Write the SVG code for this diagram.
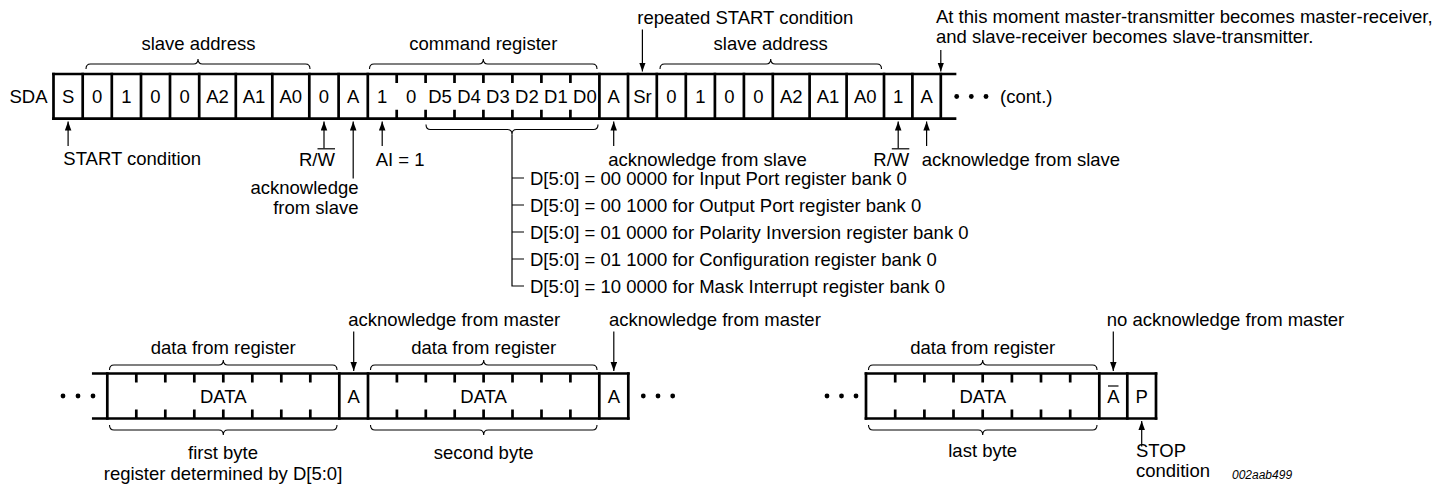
<svg xmlns="http://www.w3.org/2000/svg" width="1441" height="487" viewBox="0 0 1441 487">
<defs>
<marker id="ah" markerUnits="userSpaceOnUse" markerWidth="10" markerHeight="8" refX="9" refY="3.25" orient="auto">
<path d="M0,0 L9,3.25 L0,6.5 z" fill="#000"/>
</marker>
</defs>
<style>
text{font-family:"Liberation Sans",Arial,Helvetica,sans-serif;font-size:18.5px;fill:#000}
.c{text-anchor:middle}
.e{text-anchor:end}
.frame{fill:none;stroke:#000;stroke-width:2.7;stroke-linecap:square}
.tick{fill:none;stroke:#000;stroke-width:2.7}
.brace{fill:none;stroke:#000;stroke-width:1.1}
.arr{fill:none;stroke:#000;stroke-width:1.2;marker-end:url(#ah)}
.thin{fill:none;stroke:#000;stroke-width:1.2}
.dot{fill:#000}
.id{font-size:12px;font-style:italic}
</style>

<g id="sda-label"><text x="9.5" y="103">SDA</text></g>

<g id="top-frame">
<path class="frame" d="M53.5,74 H955 M53.5,118.7 H955"/>
<path class="frame" d="M53.5,74V118.7 M82.7,74V118.7 M111.8,74V118.7 M141,74V118.7 M170,74V118.7 M199.2,74V118.7 M235.8,74V118.7 M272.3,74V118.7 M309.3,74V118.7 M338.6,74V118.7 M367.8,74V118.7 M599.4,74V118.7 M628,74V118.7 M656.8,74V118.7 M685.8,74V118.7 M714.9,74V118.7 M743.9,74V118.7 M772.8,74V118.7 M809.6,74V118.7 M846.6,74V118.7 M884,74V118.7 M912.4,74V118.7 M940.8,74V118.7"/>
<path class="tick" d="M396.7,74V83 M425.6,74V83 M454.5,74V83 M483.4,74V83 M512.4,74V83 M541.4,74V83 M570.4,74V83 M396.7,109.7V118.7 M425.6,109.7V118.7 M454.5,109.7V118.7 M483.4,109.7V118.7 M512.4,109.7V118.7 M541.4,109.7V118.7 M570.4,109.7V118.7"/>
</g>

<g id="top-cells">
<text class="c" x="68.1" y="103">S</text>
<text class="c" x="97.25" y="103">0</text>
<text class="c" x="126.4" y="103">1</text>
<text class="c" x="155.5" y="103">0</text>
<text class="c" x="184.6" y="103">0</text>
<text class="c" x="217.5" y="103">A2</text>
<text class="c" x="254" y="103">A1</text>
<text class="c" x="290.8" y="103">A0</text>
<text class="c" x="324" y="103">0</text>
<text class="c" x="353.2" y="103">A</text>
<text class="c" x="382.2" y="103">1</text>
<text class="c" x="411.1" y="103">0</text>
<text class="c" x="440" y="103">D5</text>
<text class="c" x="469" y="103">D4</text>
<text class="c" x="497.9" y="103">D3</text>
<text class="c" x="526.9" y="103">D2</text>
<text class="c" x="555.9" y="103">D1</text>
<text class="c" x="584.9" y="103">D0</text>
<text class="c" x="613.7" y="103">A</text>
<text class="c" x="642.4" y="103">Sr</text>
<text class="c" x="671.3" y="103">0</text>
<text class="c" x="700.3" y="103">1</text>
<text class="c" x="729.4" y="103">0</text>
<text class="c" x="758.3" y="103">0</text>
<text class="c" x="791.2" y="103">A2</text>
<text class="c" x="828.1" y="103">A1</text>
<text class="c" x="865.3" y="103">A0</text>
<text class="c" x="898.2" y="103">1</text>
<text class="c" x="926.6" y="103">A</text>
</g>

<g id="top-cont">
<circle class="dot" cx="956.7" cy="96.5" r="2.4"/>
<circle class="dot" cx="971.3" cy="96.5" r="2.4"/>
<circle class="dot" cx="986" cy="96.5" r="2.4"/>
<text x="1000" y="103">(cont.)</text>
</g>

<g id="top-braces">
<path class="brace" d="M86,69 Q86,64 90.5,64 H193.5 Q198,64 198,59 Q198,64 202.5,64 H305.5 Q310,64 310,69"/>
<path class="brace" d="M369.5,69 Q369.5,64 374,64 H478.8 Q483.3,64 483.3,59 Q483.3,64 487.8,64 H592.5 Q597,64 597,69"/>
<path class="brace" d="M660,69 Q660,64 664.5,64 H766.2 Q770.7,64 770.7,59 Q770.7,64 775.2,64 H877 Q881.5,64 881.5,69"/>
<path class="brace" d="M426,124.5 Q426,129.5 430.5,129.5 H507.5 Q512,129.5 512,134.5 Q512,129.5 516.5,129.5 H593.5 Q598,129.5 598,124.5"/>
<text class="c" x="198.5" y="50">slave address</text>
<text class="c" x="483.3" y="50">command register</text>
<text class="c" x="770.7" y="50">slave address</text>
</g>

<g id="top-labels">
<text x="637.3" y="24">repeated START condition</text>
<text x="936" y="23">At this moment master-transmitter becomes master-receiver,</text>
<text x="936" y="43">and slave-receiver becomes slave-transmitter.</text>
<text x="63.3" y="164.5">START condition</text>
<text x="299" y="166">R/W</text>
<path class="thin" d="M317.5,148.8H335"/>
<text class="e" x="358.5" y="193.5">acknowledge</text>
<text class="e" x="358.5" y="213.5">from slave</text>
<text x="375.7" y="166">AI = 1</text>
<text x="608.3" y="165.5">acknowledge from slave</text>
<text x="873.3" y="166">R/W</text>
<path class="thin" d="M891.8,148.8H909.3"/>
<text x="921.7" y="165.5">acknowledge from slave</text>
</g>

<g id="register-list">
<text x="530" y="184.6">D[5:0] = 00 0000 for Input Port register bank 0</text>
<text x="530" y="211.6">D[5:0] = 00 1000 for Output Port register bank 0</text>
<text x="530" y="238.6">D[5:0] = 01 0000 for Polarity Inversion register bank 0</text>
<text x="530" y="265.6">D[5:0] = 01 1000 for Configuration register bank 0</text>
<text x="530" y="292.6">D[5:0] = 10 0000 for Mask Interrupt register bank 0</text>
</g>

<g id="bottom-frame-1">
<path class="frame" d="M93.3,373.5 H628.3 M93.3,418.5 H628.3"/>
<path class="frame" d="M107.3,373.5V418.5 M339.3,373.5V418.5 M368,373.5V418.5 M599.3,373.5V418.5 M628.3,373.5V418.5"/>
<path class="tick" d="M136.3,373.5V382.5 M165.3,373.5V382.5 M194.3,373.5V382.5 M223.3,373.5V382.5 M252.3,373.5V382.5 M281.3,373.5V382.5 M310.3,373.5V382.5 M136.3,409.5V418.5 M165.3,409.5V418.5 M194.3,409.5V418.5 M223.3,409.5V418.5 M252.3,409.5V418.5 M281.3,409.5V418.5 M310.3,409.5V418.5"/>
<path class="tick" d="M396.9,373.5V382.5 M425.8,373.5V382.5 M454.7,373.5V382.5 M483.6,373.5V382.5 M512.5,373.5V382.5 M541.5,373.5V382.5 M570.4,373.5V382.5 M396.9,409.5V418.5 M425.8,409.5V418.5 M454.7,409.5V418.5 M483.6,409.5V418.5 M512.5,409.5V418.5 M541.5,409.5V418.5 M570.4,409.5V418.5"/>
<text class="c" x="223.3" y="402.6">DATA</text>
<text class="c" x="353.7" y="402.6">A</text>
<text class="c" x="483.6" y="402.6">DATA</text>
<text class="c" x="613.8" y="402.6">A</text>
<circle class="dot" cx="63" cy="396" r="2.4"/>
<circle class="dot" cx="78" cy="396" r="2.4"/>
<circle class="dot" cx="93" cy="396" r="2.4"/>
<circle class="dot" cx="643.3" cy="396" r="2.4"/>
<circle class="dot" cx="658" cy="396" r="2.4"/>
<circle class="dot" cx="672.7" cy="396" r="2.4"/>
</g>

<g id="bottom-frame-2">
<path class="frame" d="M866,373.5 H1156 M866,418.5 H1156"/>
<path class="frame" d="M866,373.5V418.5 M1099.3,373.5V418.5 M1127.3,373.5V418.5 M1156,373.5V418.5"/>
<path class="tick" d="M895.2,373.5V382.5 M924.4,373.5V382.5 M953.5,373.5V382.5 M982.7,373.5V382.5 M1011.9,373.5V382.5 M1041,373.5V382.5 M1070.2,373.5V382.5 M895.2,409.5V418.5 M924.4,409.5V418.5 M953.5,409.5V418.5 M982.7,409.5V418.5 M1011.9,409.5V418.5 M1041,409.5V418.5 M1070.2,409.5V418.5"/>
<text class="c" x="982.7" y="402.6">DATA</text>
<text class="c" x="1113.3" y="402.6">A</text>
<path class="thin" d="M1108,386H1118.5"/>
<text class="c" x="1141.7" y="402.6">P</text>
<circle class="dot" cx="827" cy="396" r="2.4"/>
<circle class="dot" cx="841.5" cy="396" r="2.4"/>
<circle class="dot" cx="856" cy="396" r="2.4"/>
</g>

<g id="bottom-braces">
<path class="brace" d="M109.5,370 Q109.5,365 114,365 H218.8 Q223.3,365 223.3,360 Q223.3,365 227.8,365 H332.5 Q337,365 337,370"/>
<path class="brace" d="M370.5,370 Q370.5,365 375,365 H479.2 Q483.7,365 483.7,360 Q483.7,365 488.2,365 H592.5 Q597,365 597,370"/>
<path class="brace" d="M868.5,370 Q868.5,365 873,365 H978.2 Q982.7,365 982.7,360 Q982.7,365 987.2,365 H1092.5 Q1097,365 1097,370"/>
<path class="brace" d="M109.5,425 Q109.5,430 114,430 H218.8 Q223.3,430 223.3,435 Q223.3,430 227.8,430 H332.5 Q337,430 337,425"/>
<path class="brace" d="M370.5,425 Q370.5,430 375,430 H479.2 Q483.7,430 483.7,435 Q483.7,430 488.2,430 H592.5 Q597,430 597,425"/>
<path class="brace" d="M868.5,425 Q868.5,430 873,430 H978.2 Q982.7,430 982.7,435 Q982.7,430 987.2,430 H1092.5 Q1097,430 1097,425"/>
<text class="c" x="223.3" y="353.5">data from register</text>
<text class="c" x="483.7" y="353.5">data from register</text>
<text class="c" x="982.7" y="353.5">data from register</text>
<text class="c" x="223" y="459">first byte</text>
<text class="c" x="223" y="480">register determined by D[5:0]</text>
<text class="c" x="483.7" y="459">second byte</text>
<text class="c" x="982.7" y="457">last byte</text>
</g>

<g id="bottom-labels">
<text x="348.3" y="326">acknowledge from master</text>
<text x="609" y="326">acknowledge from master</text>
<text x="1106.7" y="325.5">no acknowledge from master</text>
<text x="1136" y="457">STOP</text>
<text x="1136" y="477">condition</text>
<text class="id" x="1232" y="479">002aab499</text>
</g>

<g id="connectors">
<path class="arr" d="M68.1,146V121.5"/>
<path class="arr" d="M324,148.3V121.5"/>
<path class="arr" d="M353.2,178.5V121.5"/>
<path class="arr" d="M382.2,146V121.5"/>
<path class="arr" d="M613.7,146V121.5"/>
<path class="arr" d="M898.2,148.3V121.5"/>
<path class="arr" d="M926.6,146V121.5"/>
<path class="arr" d="M642.4,29.5V71.5"/>
<path class="arr" d="M940.8,50V71.5"/>
<path class="arr" d="M353.7,331.5V371"/>
<path class="arr" d="M613.8,331.5V371"/>
<path class="arr" d="M1113.3,331.5V371"/>
<path class="arr" d="M1141.7,446.5V421"/>
<path class="thin" d="M512,134.5V286H524 M512,178H524 M512,205H524 M512,232H524 M512,259H524"/>
</g>
</svg>
